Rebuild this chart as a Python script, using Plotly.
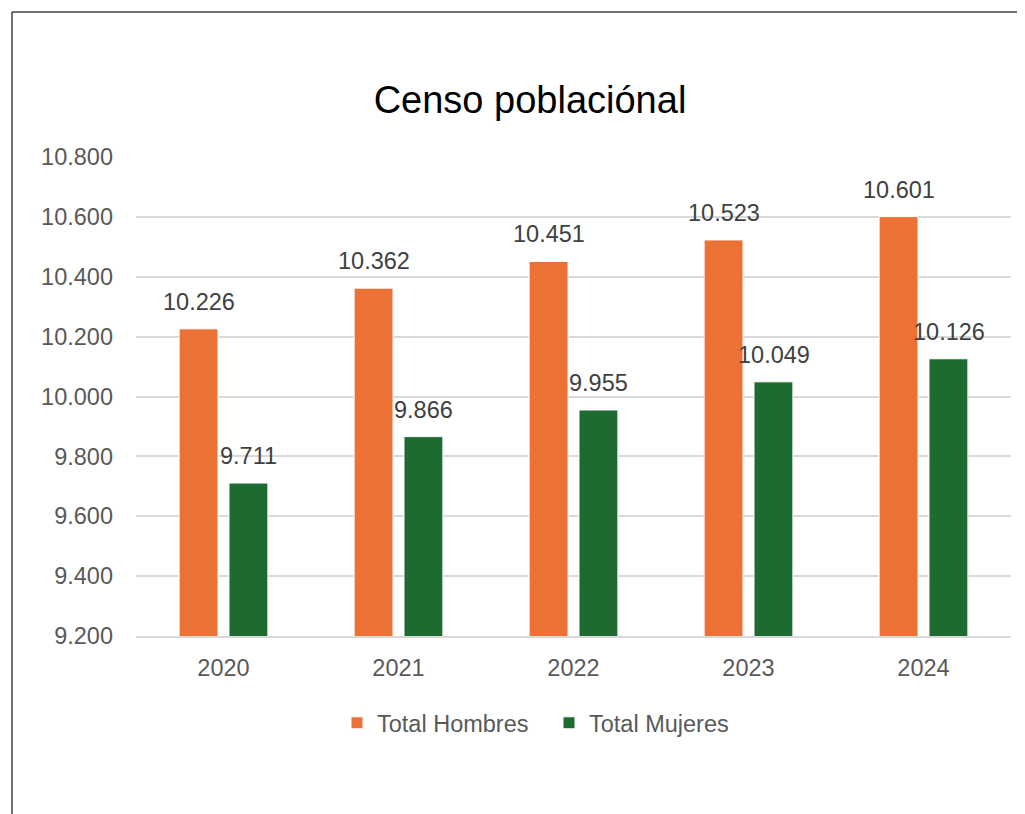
import plotly.graph_objects as go

# datos del censo
years = [2020, 2021, 2022, 2023, 2024]
hombres = [10226, 10362, 10451, 10523, 10601]
mujeres = [9711, 9866, 9955, 10049, 10126]

orange = "#EB7134"
green = "#1D6B30"
label_font = dict(size=23.5, color="#404040")

# la página tiene 8px de margen, así que todo se desplaza 8px
OFF = 8
W, H = 1025, 814
L, T, B = 136 - OFF, 157 - OFF, 814 - 636 + OFF
PW, PH = 875, 479

fig = go.Figure()
fig.add_trace(go.Bar(x=years, y=hombres, name="Total Hombres",
                     marker=dict(color=orange, line=dict(color="white", width=1))))
fig.add_trace(go.Bar(x=years, y=mujeres, name="Total Mujeres",
                     marker=dict(color=green, line=dict(color="white", width=1))))

# etiquetas de datos encima de cada barra
for yr, h, m in zip(years, hombres, mujeres):
    for val, dx in ((h, -25), (m, 25)):
        fig.add_annotation(x=yr, y=val, text=f"{val:,}".replace(",", "."),
                           showarrow=False, xshift=dx, yshift=27, yanchor="middle",
                           font=label_font)

fig.update_layout(
    width=W, height=H,
    font=dict(family="Liberation Sans, Arial, sans-serif", color="#595959"),
    separators=",.",
    plot_bgcolor="white", paper_bgcolor="white",
    margin=dict(l=L, r=W - L - PW, t=T, b=B),
    barmode="group", bargap=0.43, bargroupgap=0.22,
    title=dict(text="Censo poblaciónal", x=(530 - OFF) / W, xanchor="center",
               y=1 - (100 - OFF) / H, yanchor="middle", yref="container",
               font=dict(size=38, color="black")),
    legend=dict(orientation="h", x=(549 - 136) / PW, xanchor="center",
                y=(636 - 723) / PH, yanchor="middle",
                font=dict(size=23.5, color="#595959"), itemwidth=30,
                entrywidth=167, entrywidthmode="pixels"),
    showlegend=True,
)
fig.update_yaxes(range=[9200, 10800], dtick=200, tickformat=",d",
                 gridcolor="#d9d9d9", gridwidth=1.5, zeroline=False,
                 showline=False, tickfont=dict(size=23.5, color="#595959"),
                 ticklabelstandoff=22)
fig.update_xaxes(type="linear", range=[years[0] - 0.5, years[-1] + 0.5],
                 tickvals=years, tickformat="d", showgrid=False, zeroline=False,
                 showline=True, linecolor="#d9d9d9", linewidth=1.5,
                 tickfont=dict(size=23.5, color="#595959"), ticklabelstandoff=10)

# marco del gráfico (izquierda y arriba)
x_left = (12 - 136) / PW
y_top = (636 - 12) / PH
fig.add_shape(type="line", xref="paper", yref="paper", x0=x_left, x1=(1025 - 136) / PW,
              y0=y_top, y1=y_top, line=dict(color="#404040", width=1.5))
fig.add_shape(type="line", xref="paper", yref="paper", x0=x_left, x1=x_left,
              y0=y_top, y1=(636 - 814) / PH, line=dict(color="#404040", width=1.5))

fig.write_html("out.html")
